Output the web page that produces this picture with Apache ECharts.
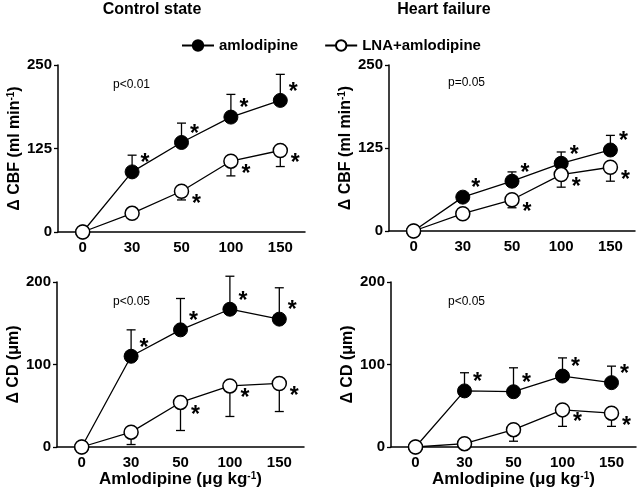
<!DOCTYPE html>
<html><head><meta charset="utf-8">
<script src="https://cdn.jsdelivr.net/npm/echarts@6/dist/echarts.min.js"></script>
<style>html,body{margin:0;padding:0;background:#fff}#c{width:640px;height:489px}</style>
</head><body><div id="c"></div>
<script>
const categories = ['0', '30', '50', '100', '150'];
const seriesNames = ['amlodipine', 'LNA+amlodipine'];
const panelTitles = ['Control state', 'Heart failure'];
const pLabels = ['p<0.01', 'p=0.05', 'p<0.05', 'p<0.05'];

const cbfCtrlAml = [0, 90, 134, 172, 197];
const cbfCtrlAmlErr = [0, 25, 29, 34, 39];
const cbfCtrlAmlStar = [0, 1, 1, 1, 1];
const cbfCtrlLna = [0, 28, 61, 106, 122];
const cbfCtrlLnaErr = [0, 0, 13, 22, 24];
const cbfCtrlLnaStar = [0, 0, 1, 1, 1];

const cbfHfAml = [0, 51, 75, 102, 122];
const cbfHfAmlErr = [0, 0, 14, 17, 22];
const cbfHfAmlStar = [0, 1, 1, 1, 1];
const cbfHfLna = [0, 26, 47, 85, 96];
const cbfHfLnaErr = [0, 0, 12, 19, 21];
const cbfHfLnaStar = [0, 0, 1, 1, 1];

const cdCtrlAml = [0, 110, 142, 167, 155];
const cdCtrlAmlErr = [0, 32, 38, 40, 38];
const cdCtrlAmlStar = [0, 1, 1, 1, 1];
const cdCtrlLna = [0, 18, 54, 74, 77];
const cdCtrlLnaErr = [0, 15, 34, 37, 34];
const cdCtrlLnaStar = [0, 0, 1, 1, 1];

const cdHfAml = [0, 68, 67, 86, 78];
const cdHfAmlErr = [0, 22, 29, 22, 20];
const cdHfAmlStar = [0, 1, 1, 1, 1];
const cdHfLna = [0, 4, 21, 45, 41];
const cdHfLnaErr = [0, 0, 14, 20, 16];
const cdHfLnaStar = [0, 0, 0, 1, 1];

const FONT = 'Liberation Sans, Arial, Helvetica, sans-serif';

const panels = [
  {grid: {left: 58, top: 65, width: 247, height: 167}, max: 250, interval: 125, yname: 'Δ CBF (ml min{sup|-1})', xname: '',
   aml: cbfCtrlAml, amlErr: cbfCtrlAmlErr, amlStar: cbfCtrlAmlStar, lna: cbfCtrlLna, lnaErr: cbfCtrlLnaErr, lnaStar: cbfCtrlLnaStar},
  {grid: {left: 389, top: 65, width: 246, height: 166}, max: 250, interval: 125, yname: 'Δ CBF (ml min{sup|-1})', xname: '',
   aml: cbfHfAml, amlErr: cbfHfAmlErr, amlStar: cbfHfAmlStar, lna: cbfHfLna, lnaErr: cbfHfLnaErr, lnaStar: cbfHfLnaStar},
  {grid: {left: 57, top: 282, width: 247, height: 165}, max: 200, interval: 100, yname: 'Δ CD (μm)', xname: 'Amlodipine (μg kg{sup|-1})',
   aml: cdCtrlAml, amlErr: cdCtrlAmlErr, amlStar: cdCtrlAmlStar, lna: cdCtrlLna, lnaErr: cdCtrlLnaErr, lnaStar: cdCtrlLnaStar},
  {grid: {left: 391, top: 282, width: 245, height: 166}, max: 200, interval: 100, yname: 'Δ CD (μm)', xname: 'Amlodipine (μg kg{sup|-1})',
   aml: cdHfAml, amlErr: cdHfAmlErr, amlStar: cdHfAmlStar, lna: cdHfLna, lnaErr: cdHfLnaErr, lnaStar: cdHfLnaStar}
];

const supRich = {sup: {fontSize: 10, fontWeight: 'bold', fontFamily: FONT, color: '#000', verticalAlign: 'top', padding: [0, 0, 7, 0]}};

function errSeries(i, vals, errs, stars, dir, starDx, starDy) {
  const data = vals.map((v, k) => [k, v, errs[k], stars[k]]);
  return {
    type: 'custom', xAxisIndex: i, yAxisIndex: i, z: 1, silent: true,
    data: data,
    renderItem: function (params, api) {
      const k = api.value(0), v = api.value(1), e = api.value(2), s = api.value(3);
      const p = api.coord([k, v]);
      const pe = api.coord([k, v + dir * e]);
      const children = [];
      if (e > 0) {
        children.push({type: 'line', shape: {x1: p[0], y1: p[1], x2: pe[0], y2: pe[1]}, style: {stroke: '#000', lineWidth: 1.3}});
        children.push({type: 'line', shape: {x1: pe[0] - 4.5, y1: pe[1], x2: pe[0] + 4.5, y2: pe[1]}, style: {stroke: '#000', lineWidth: 1.3}});
      }
      if (s) {
        children.push({type: 'text', style: {text: '*', x: p[0] + starDx, y: p[1] + starDy, font: 'bold 23px ' + FONT, fill: '#000', align: 'center', verticalAlign: 'middle'}});
      }
      return {type: 'group', children: children};
    }
  };
}

const grids = [], xAxes = [], yAxes = [], series = [];
panels.forEach((pn, i) => {
  grids.push(Object.assign({containLabel: false}, pn.grid));
  xAxes.push({
    type: 'category', gridIndex: i, data: categories, boundaryGap: true,
    axisLine: {lineStyle: {color: '#000', width: 1.5}},
    axisTick: {alignWithLabel: true, length: 4, lineStyle: {color: '#000', width: 1.3}},
    axisLabel: {color: '#000', fontWeight: 'bold', fontSize: 15, fontFamily: FONT, margin: 8},
    name: pn.xname, nameLocation: 'middle', nameGap: 24,
    nameTextStyle: {color: '#000', fontWeight: 'bold', fontSize: 17, fontFamily: FONT, rich: supRich}
  });
  yAxes.push({
    type: 'value', gridIndex: i, min: 0, max: pn.max, interval: pn.interval,
    splitLine: {show: false},
    axisLine: {show: true, lineStyle: {color: '#000', width: 1.5}},
    axisTick: {show: true, length: 4, lineStyle: {color: '#000', width: 1.3}},
    axisLabel: {color: '#000', fontWeight: 'bold', fontSize: 15, fontFamily: FONT, margin: 6},
    name: pn.yname, nameLocation: 'middle', nameGap: 31, nameRotate: 90,
    nameTextStyle: {color: '#000', fontWeight: 'bold', fontSize: 16, fontFamily: FONT, rich: supRich}
  });
  series.push(errSeries(i, pn.aml, pn.amlErr, pn.amlStar, 1, 13, -8));
  series.push(errSeries(i, pn.lna, pn.lnaErr, pn.lnaStar, -1, 15, 13));
  series.push({
    name: seriesNames[0], type: 'line', xAxisIndex: i, yAxisIndex: i, z: 3,
    data: pn.aml, symbol: 'circle', symbolSize: 14, showSymbol: true,
    lineStyle: {color: '#000', width: 1.3}, itemStyle: {color: '#000', borderColor: '#000', borderWidth: 1},
    emphasis: {disabled: true}, animation: false
  });
  series.push({
    name: seriesNames[1], type: 'line', xAxisIndex: i, yAxisIndex: i, z: 4,
    data: pn.lna, symbol: 'circle', symbolSize: 14, showSymbol: true,
    lineStyle: {color: '#000', width: 1.3}, itemStyle: {color: '#fff', borderColor: '#000', borderWidth: 1.5},
    emphasis: {disabled: true}, animation: false
  });
});

const pPos = [[113, 79], [448, 77], [113, 296], [448, 296]];
const graphic = [
  {type: 'text', x: 152, y: 10, style: {text: panelTitles[0], font: 'bold 16px ' + FONT, fill: '#000', align: 'center', verticalAlign: 'middle'}},
  {type: 'text', x: 444, y: 10, style: {text: panelTitles[1], font: 'bold 16px ' + FONT, fill: '#000', align: 'center', verticalAlign: 'middle'}}
];
pLabels.forEach((t, i) => graphic.push({type: 'text', x: pPos[i][0], y: pPos[i][1], style: {text: t, font: '12px ' + FONT, fill: '#000'}}));

const chart = echarts.init(document.getElementById('c'), null, {renderer: 'canvas'});
chart.setOption({
  animation: false,
  backgroundColor: '#fff',
  grid: grids, xAxis: xAxes, yAxis: yAxes, series: series,
  legend: {
    data: seriesNames, left: 176, top: 33, itemWidth: 32, itemHeight: 13, itemGap: 26,
    textStyle: {color: '#000', fontWeight: 'bold', fontSize: 15, fontFamily: FONT}
  },
  graphic: graphic
});
</script></body></html>
